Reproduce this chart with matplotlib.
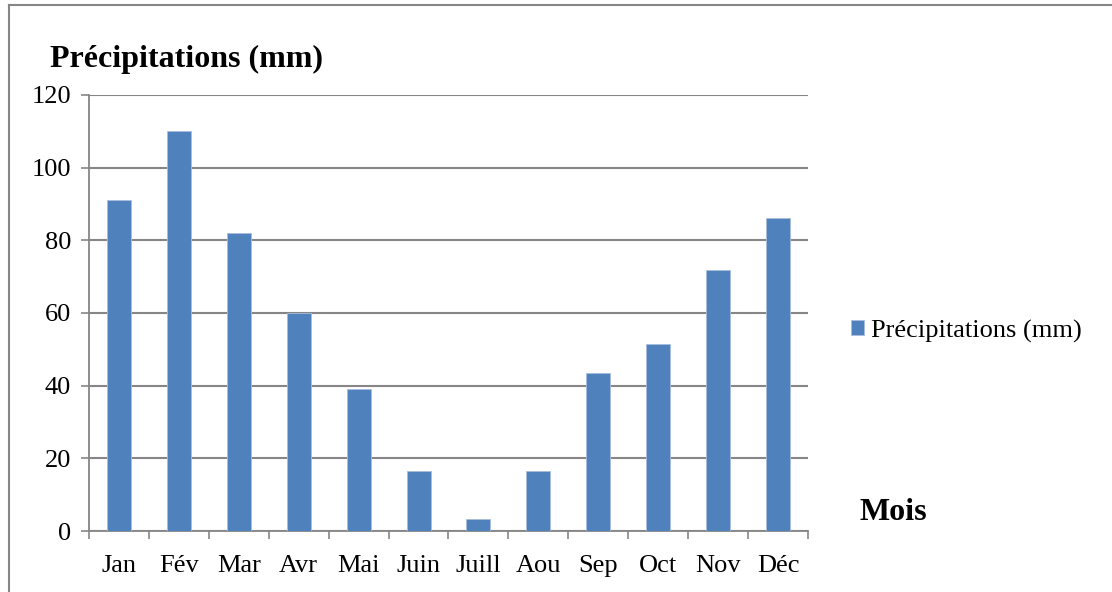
import numpy as np
import matplotlib.pyplot as plt
from matplotlib.lines import Line2D

mois = ['Jan', 'Fév', 'Mar', 'Avr', 'Mai', 'Juin', 'Juill', 'Aou', 'Sep', 'Oct', 'Nov', 'Déc']
precipitations = [91, 110, 82, 60, 39.2, 16.5, 3.4, 16.5, 43.4, 51.6, 71.7, 86.1]
y_ticks = [0, 20, 40, 60, 80, 100, 120]

plt.rcParams['font.family'] = ['Liberation Serif', 'DejaVu Serif']
grey = '#868686'
bleu = '#4F81BD'

fig = plt.figure(figsize=(11.12, 5.92), dpi=100)
ax = fig.add_axes([89/1112, 1 - 531/592, (808 - 89)/1112, (531 - 95)/592])

x = np.arange(len(mois))
ax.bar(x, precipitations, width=0.4, color=bleu, edgecolor='#a7bedc',
       linewidth=0.6, label='Précipitations (mm)', zorder=3)

ax.set_xlim(-0.5, len(mois) - 0.5)
ax.set_ylim(0, 120)
ax.set_yticks(y_ticks)
ax.set_xticks(x)
ax.set_xticklabels(mois)
ax.set_xticks(np.arange(-0.5, len(mois)), minor=True)

ax.tick_params(axis='x', which='major', length=0, pad=17, labelsize=19)
ax.tick_params(axis='x', which='minor', length=6, width=1.2, color=grey, direction='out')
ax.tick_params(axis='y', length=6, width=1.2, color=grey, direction='out', pad=7, labelsize=19)

ax.grid(axis='y', color=grey, linewidth=1.5, zorder=0)
for s in ['top', 'right']:
    ax.spines[s].set_visible(False)
for s in ['left', 'bottom']:
    ax.spines[s].set_color(grey)
    ax.spines[s].set_linewidth(1.3)

fig.text(50/1112, 1 - 59/592, 'Précipitations (mm)', fontsize=23, fontweight='bold',
         ha='left', va='center')
fig.text(860/1112, 1 - 513/592, 'Mois', fontsize=23, fontweight='bold',
         ha='left', va='center')

ax.legend(loc='center left', bbox_to_anchor=(851/1112, 1 - 331/592),
          bbox_transform=fig.transFigure, frameon=False, fontsize=19,
          handlelength=0.5, handleheight=0.5, handletextpad=0.27, borderpad=0,
          borderaxespad=0)

# cadre extérieur du graphique
fig.add_artist(Line2D([9/1112, 9/1112], [0, 1 - 5/592], color=grey, linewidth=1.5))
fig.add_artist(Line2D([9/1112, 1], [1 - 5/592, 1 - 5/592], color=grey, linewidth=1.5))

plt.savefig('out.png', dpi=100)
